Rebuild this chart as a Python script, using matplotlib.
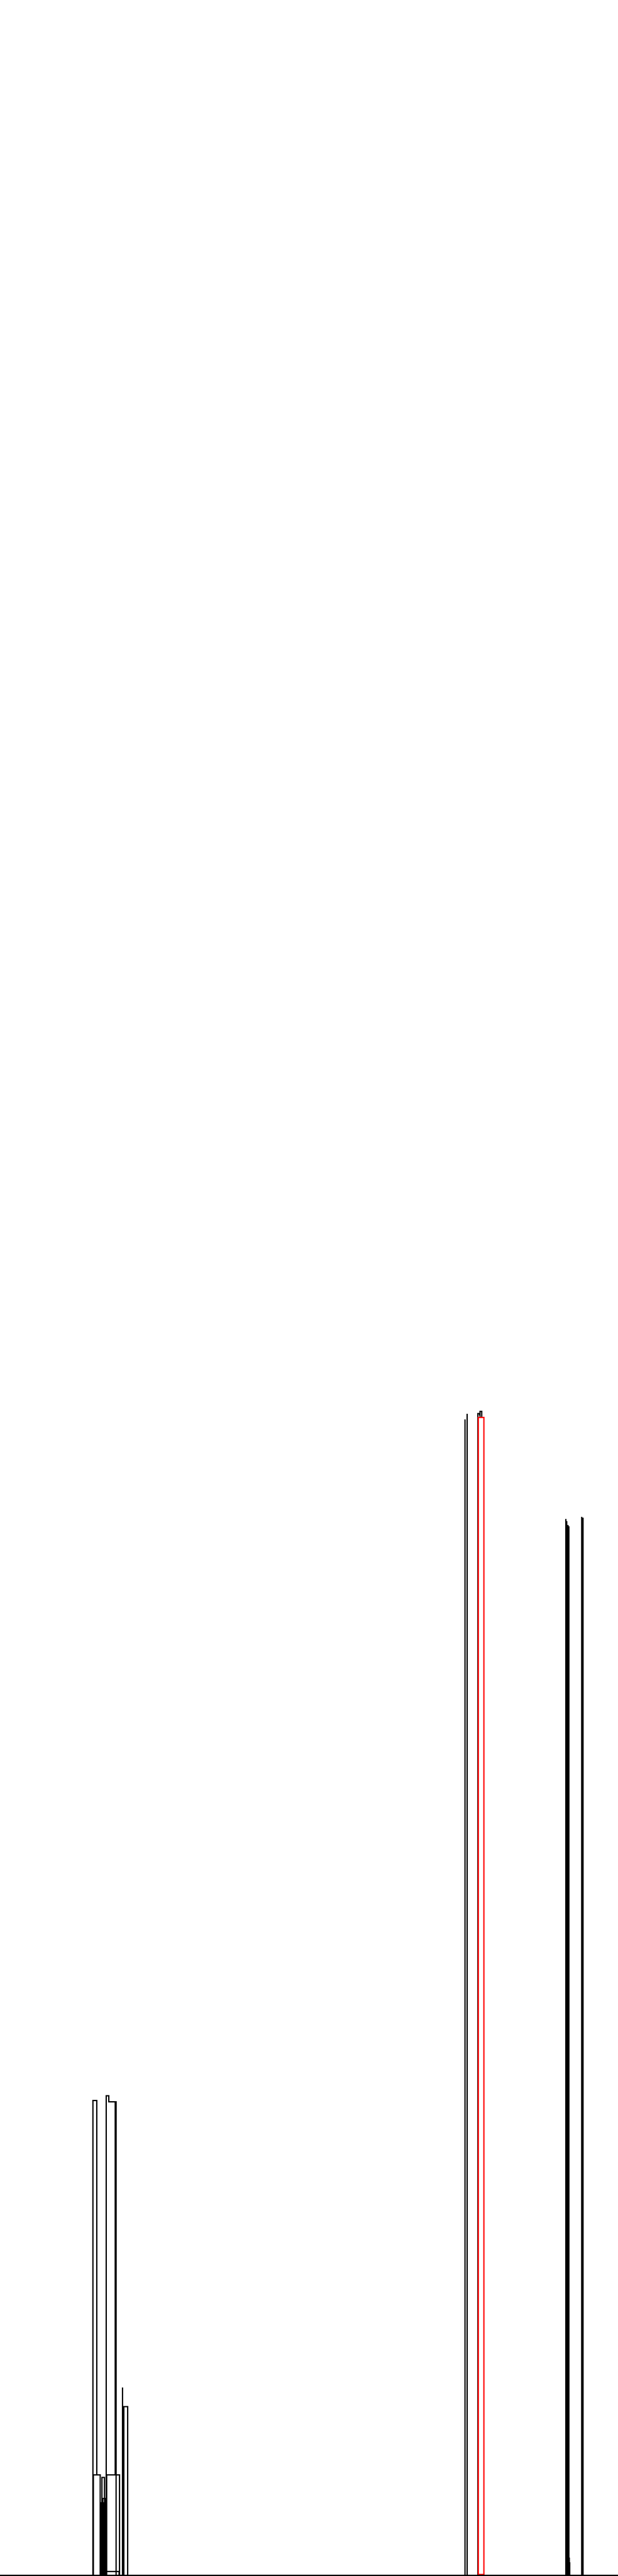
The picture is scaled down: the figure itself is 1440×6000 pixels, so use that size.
import numpy as np
import matplotlib
matplotlib.use('Agg')
import matplotlib.pyplot as plt

# link data (x in leaf units, heights in distance units)
# each link is a "U": left leg from left_base up to top, across, down to right_base
link_left = [216, 217, 247, 253, 248, 248, 237, 239, 236, 241, 288,
             1113, 1118, 1114, 1114]
link_right = [225, 233, 253, 268, 278, 277, 243, 246, 241, 246, 297,
              1117, 1122, 1127, 1127]
link_top = [1107, 235, 1118, 1104, 235, 10, 229, 180, 170, 37, 394,
            2706, 2711, 2697, 3]
left_base = [0, 0, 0, 1104, 0, 0, 0, 0, 0, 0, 0,
             0, 2700, 0, 0]
right_base = [235, 0, 1104, 235, 0, 0, 0, 0, 0, 0, 0,
              2703, 2698, 0, 0]
link_color = ['k'] * 13 + ['red', 'red']

# single legs whose parent merge is not drawn
stem_x = [285, 270, 1083, 1088, 1318, 1320, 1323, 1325, 1355, 1358, 1326, 1327]
stem_top = [437, 1104, 2691, 2704, 2459, 2454, 2445, 2442, 2464, 2462, 41, 30]

fig = plt.figure(figsize=(14.4, 60), dpi=100)
ax = fig.add_axes([0, 0.00025, 1, 1])

lw = 1.8
for xl, xr, top, lb, rb, c in zip(link_left, link_right, link_top,
                                  left_base, right_base, link_color):
    ax.plot([xl, xl, xr, xr], [lb, top, top, rb], color=c, lw=lw,
            solid_joinstyle='miter', antialiased=False)

for x, top in zip(stem_x, stem_top):
    ax.plot([x, x], [0, top], color='k', lw=lw, antialiased=False)

ax.set_xlim(0, 1440)
ax.set_ylim(0, 6000)
ax.set_xticks([])
ax.set_yticks([])
for side in ['top', 'left', 'right']:
    ax.spines[side].set_visible(False)
ax.spines['bottom'].set_linewidth(2.2)
ax.spines['bottom'].set_color('k')
ax.spines['bottom'].set_antialiased(False)

fig.savefig('out.png', dpi=100)
